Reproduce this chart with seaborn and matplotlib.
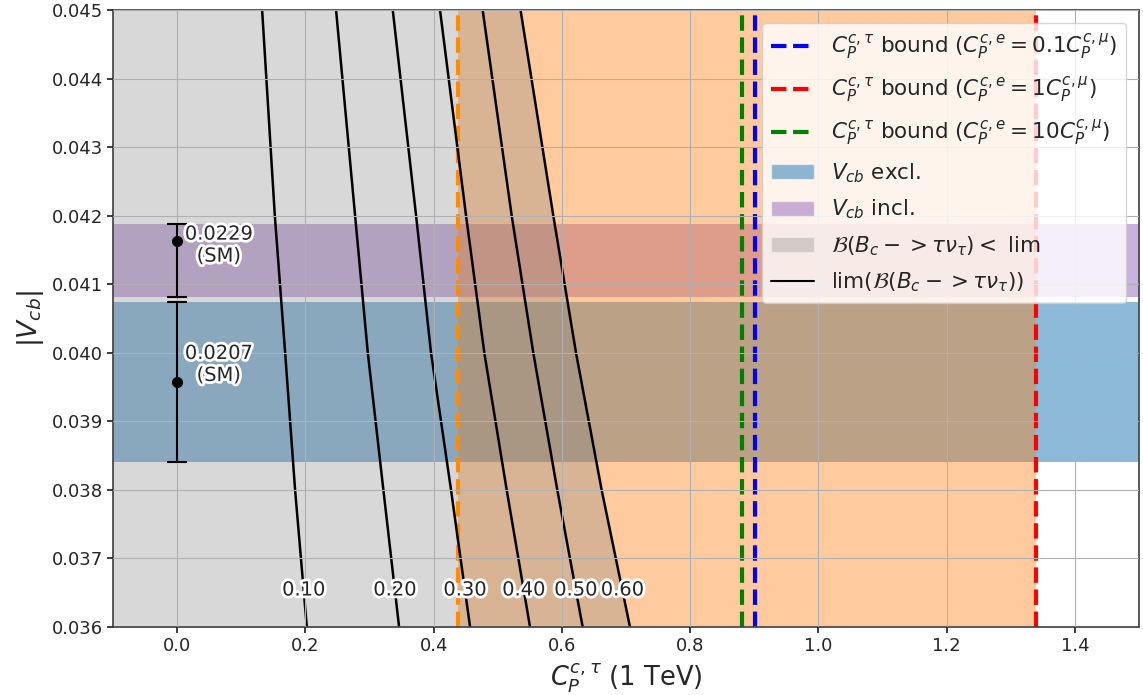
import numpy as np
import pandas as pd
import matplotlib
matplotlib.use("Agg")
import matplotlib.pyplot as plt
import matplotlib.patheffects as pe
import matplotlib.ticker as mticker
from matplotlib.patches import Patch
from matplotlib.lines import Line2D
import seaborn as sns

# |V_cb| values at which each limit contour is sampled
vcb_grid = [0.045, 0.042, 0.040, 0.038, 0.036]

# C_P^{c,tau} positions of the branching-ratio limit contours
lim_levels = [0.10, 0.20, 0.30, 0.40, 0.50, 0.60]
lim_010 = [0.1325, 0.1523, 0.1684, 0.1839, 0.2022]
lim_020 = [0.2478, 0.2775, 0.2973, 0.3216, 0.3461]
lim_030 = [0.3362, 0.3726, 0.3959, 0.4271, 0.4568]
lim_040 = [0.4099, 0.4505, 0.4790, 0.5139, 0.5503]
lim_050 = [0.4764, 0.5217, 0.5554, 0.5928, 0.6324]
lim_060 = [0.5355, 0.5866, 0.6220, 0.6620, 0.7062]
lim_curves = [lim_010, lim_020, lim_030, lim_040, lim_050, lim_060]

# Vertical bounds on C_P^{c,tau}
bound_01 = 0.9005
bound_1 = 1.340
bound_10 = 0.881
bound_left = 0.438

# V_cb determinations (central value, lower edge, upper edge)
vcb_excl = [0.03958, 0.03841, 0.04074]
vcb_incl = [0.04163, 0.04082, 0.04188]
sm_labels = ["0.0207\n(SM)", "0.0229\n(SM)"]
sm_label_y = [0.03983, 0.04157]

BLUE, ORANGE, PURPLE = "#1f77b4", "#ff7f0e", "#9467bd"

sns.set_theme(style="ticks", rc={"axes.edgecolor": "#444444"})
plt.rcParams["font.family"] = ["DejaVu Sans"]

fig = plt.figure(figsize=(11.43, 6.95), dpi=100)
ax = fig.add_axes([0.0989, 0.0978, 0.8976, 0.8878])

# V_cb bands
ax.axhspan(vcb_excl[1], vcb_excl[2], color=BLUE, alpha=0.5, lw=0)
ax.axhspan(vcb_incl[1], vcb_incl[2], color=PURPLE, alpha=0.5, lw=0)

# allowed range of C_P^{c,tau}
ax.axvspan(bound_left, bound_1, color=ORANGE, alpha=0.4, lw=0)

# allowed region B(Bc -> tau nu) < lim, bounded by the outer contour
ax.fill_betweenx(vcb_grid, -1.0, lim_060, color="gray", alpha=0.3, lw=0)

ax.axvline(bound_left, color="darkorange", ls="--", lw=3)
ax.axvline(bound_01, color="blue", ls="--", lw=3)
ax.axvline(bound_1, color="red", ls="--", lw=3)
ax.axvline(bound_10, color="green", ls="--", lw=3)

# limit contours
contours = pd.DataFrame({"vcb": np.tile(vcb_grid, len(lim_levels)),
                         "cp": np.concatenate(lim_curves),
                         "level": np.repeat(lim_levels, len(vcb_grid))})
for lev, sub in contours.groupby("level"):
    sns.lineplot(data=sub, x="cp", y="vcb", sort=False, estimator=None,
                 color="black", linewidth=1.8, ax=ax)

stroke = [pe.withStroke(linewidth=4, foreground="white")]
label_y = 0.03654
for lev, curve in zip(lim_levels, lim_curves):
    xl = np.interp(label_y, vcb_grid[::-1], curve[::-1])
    ax.text(xl, label_y, f"{lev:.2f}", ha="center", va="center",
            fontsize=14, path_effects=stroke, zorder=5)

# SM points with V_cb uncertainties
for vals, txt, ty in zip([vcb_excl, vcb_incl], sm_labels, sm_label_y):
    ax.errorbar([0.0], [vals[0]], yerr=[[vals[0] - vals[1]], [vals[2] - vals[0]]],
                fmt="o", color="black", ms=7, capsize=7, elinewidth=1.5,
                capthick=1.5, zorder=6)
    ax.text(0.012, ty, txt, ha="left", va="center", multialignment="center",
            fontsize=14, path_effects=stroke, zorder=6)

ax.set_xlim(-0.1, 1.5)
ax.set_ylim(0.036, 0.045)
ax.set_yticks(np.arange(0.036, 0.0451, 0.001))
ax.yaxis.set_major_formatter(mticker.FormatStrFormatter("%.3f"))
ax.tick_params(labelsize=13, length=4)
ax.grid(True, color="#b0b0b0", lw=0.8)
ax.set_axisbelow(False)

ax.set_xlabel(r"$C_{P}^{c,\tau}$ (1 TeV)", fontsize=18.5)
ax.set_ylabel(r"$|V_{cb}|$", fontsize=19)

handles = [
    Line2D([], [], color="blue", ls="--", lw=3),
    Line2D([], [], color="red", ls="--", lw=3),
    Line2D([], [], color="green", ls="--", lw=3),
    Patch(facecolor=BLUE, alpha=0.5),
    Patch(facecolor=PURPLE, alpha=0.5),
    Patch(facecolor="gray", alpha=0.3),
    Line2D([], [], color="black", lw=1.5),
]
labels = [
    r"$C_P^{c,\tau}$ bound ($C_P^{c,e}=0.1C_P^{c,\mu}$)",
    r"$C_P^{c,\tau}$ bound ($C_P^{c,e}=1C_P^{c,\mu}$)",
    r"$C_P^{c,\tau}$ bound ($C_P^{c,e}=10C_P^{c,\mu}$)",
    r"$V_{cb}$ excl.",
    r"$V_{cb}$ incl.",
    r"$\mathcal{B}(B_c->\tau\nu_\tau) <$ lim",
    r"lim($\mathcal{B}(B_c->\tau\nu_\tau)$)",
]
ax.legend(handles, labels, loc="upper right", fontsize=15.5, framealpha=0.8,
          edgecolor="#cccccc", fancybox=True, labelspacing=0.6,
          borderaxespad=0.6)

fig.savefig("out.png", dpi=100)
